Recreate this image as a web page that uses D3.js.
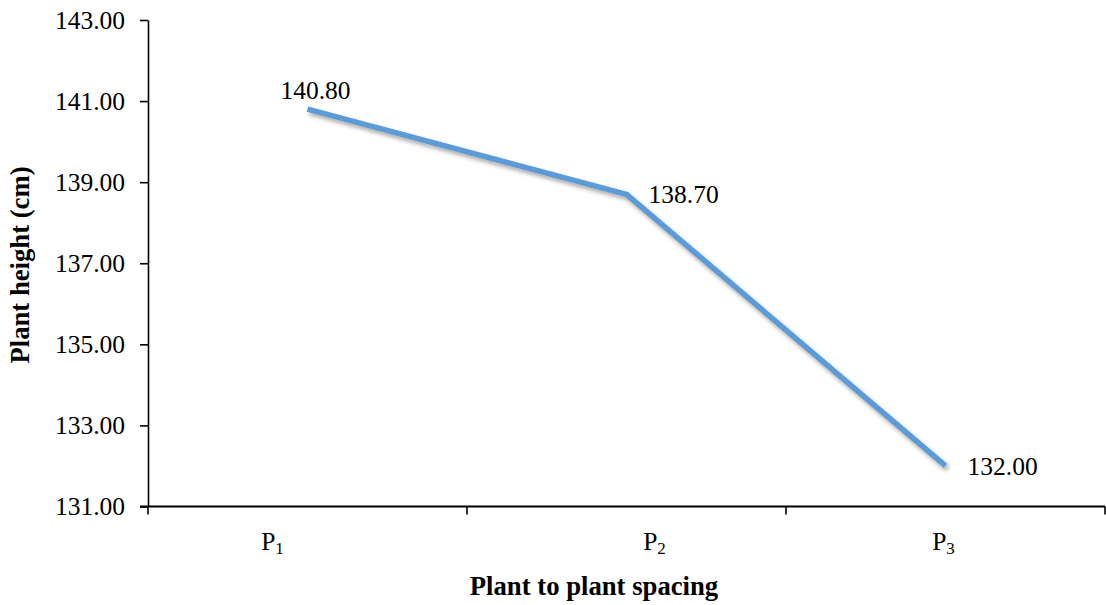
<!DOCTYPE html>
<html>
<head>
<meta charset="utf-8">
<script src="https://cdn.jsdelivr.net/npm/d3@7"></script>
<style>
  html, body { margin: 0; padding: 0; background: #fff; }
  svg text { font-family: "Liberation Serif", "Times New Roman", Tinos, "DejaVu Serif", serif !important; }
</style>
</head>
<body>
<svg id="chart" width="1106" height="605"></svg>
<script>
(function () {
// Plant height by plant-to-plant spacing
const categories = ["P1", "P2", "P3"];
const catBase = ["P", "P", "P"];
const catSub = ["1", "2", "3"];
const heights = [140.80, 138.70, 132.00];
const yTicks = [131, 133, 135, 137, 139, 141, 143];
const yTitle = "Plant height (cm)";
const xTitle = "Plant to plant spacing";

const svg = d3.select("#chart");
const plotLeft = 148, plotRight = 1105, plotTop = 20, plotBottom = 506.5;
const fontSize = 25.5;
const titleSize = 26.7;

const x = d3.scaleBand().domain(categories).range([plotLeft, plotRight]).padding(0);
const y = d3.scaleLinear().domain([131, 143]).range([plotBottom, plotTop]);

// drop shadow for the series line
const defs = svg.append("defs");
const f = defs.append("filter").attr("id", "shadow")
  .attr("x", "-10%").attr("y", "-10%").attr("width", "130%").attr("height", "130%");
f.append("feDropShadow").attr("dx", 2).attr("dy", 3).attr("stdDeviation", 2)
  .attr("flood-color", "#000").attr("flood-opacity", 0.35);

// y axis
const yAxis = svg.append("g")
  .attr("transform", `translate(${plotLeft},0)`)
  .call(d3.axisLeft(y).tickValues(yTicks).tickSize(8).tickSizeOuter(0).tickPadding(15)
    .tickFormat(d3.format(".2f")));
yAxis.attr("font-family", null);
yAxis.select(".domain").attr("stroke", "#000").attr("stroke-width", 1.6);
yAxis.selectAll(".tick line").attr("stroke", "#000").attr("stroke-width", 1.6);
yAxis.selectAll(".tick text")
  .attr("font-size", fontSize).attr("fill", "#000");

// x axis line with tick marks at category boundaries
const xAxis = svg.append("g");
xAxis.append("line")
  .attr("x1", plotLeft - 8).attr("x2", plotRight)
  .attr("y1", plotBottom).attr("y2", plotBottom)
  .attr("stroke", "#000").attr("stroke-width", 1.8);
const bounds = categories.map(c => x(c)).concat([x(categories[categories.length - 1]) + x.bandwidth()]);
xAxis.selectAll("line.tk").data(bounds).join("line").attr("class", "tk")
  .attr("x1", d => d).attr("x2", d => d)
  .attr("y1", plotBottom).attr("y2", plotBottom + 8)
  .attr("stroke", "#000").attr("stroke-width", 1.6);

// category labels with subscripts
const labelShift = [-35, 28, -2];
const catText = xAxis.selectAll("text.cat").data(categories).join("text").attr("class", "cat")
  .attr("x", (d, i) => x(d) + x.bandwidth() / 2 + labelShift[i])
  .attr("y", 550)
  .attr("text-anchor", "middle")
  .attr("font-size", fontSize).attr("fill", "#000");
catText.append("tspan").text((d, i) => catBase[i]);
catText.append("tspan").attr("dy", 4).attr("font-size", 17).text((d, i) => catSub[i]);

// series line
const line = d3.line()
  .x((d, i) => x(categories[i]) + x.bandwidth() / 2)
  .y(d => y(d));
svg.append("path")
  .datum(heights)
  .attr("d", line)
  .attr("fill", "none")
  .attr("stroke", "#5B9BD5")
  .attr("stroke-width", 5.5)
  .attr("stroke-linejoin", "round")
  .attr("filter", "url(#shadow)");

// data labels
const place = ["above", "right", "right"];
svg.selectAll("text.val").data(heights).join("text").attr("class", "val")
  .attr("x", (d, i) => x(categories[i]) + x.bandwidth() / 2 + (place[i] === "above" ? 8 : 22))
  .attr("y", (d, i) => y(d) + (place[i] === "above" ? -10 : 0))
  .attr("dy", (d, i) => place[i] === "above" ? 0 : "0.35em")
  .attr("text-anchor", (d, i) => place[i] === "above" ? "middle" : "start")
  .attr("font-size", fontSize).attr("fill", "#000")
  .text(d => d.toFixed(2));

// axis titles
svg.append("text")
  .attr("x", 594).attr("y", 595)
  .attr("text-anchor", "middle")
  .attr("font-size", titleSize).attr("font-weight", "bold").attr("fill", "#000")
  .text(xTitle);
svg.append("text")
  .attr("transform", `translate(29,265) rotate(-90)`)
  .attr("text-anchor", "middle")
  .attr("font-size", titleSize).attr("font-weight", "bold").attr("fill", "#000")
  .text(yTitle);
})();
</script>
</body>
</html>
